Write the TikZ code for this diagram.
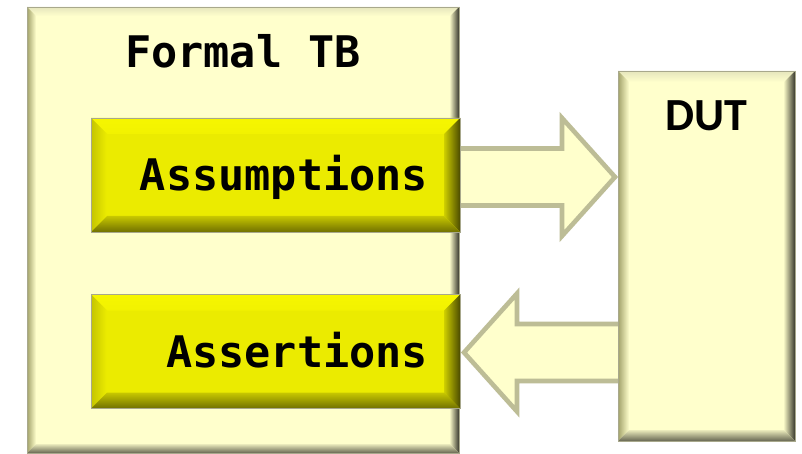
\documentclass[tikz,border=0pt]{standalone}
\usepackage{fontspec}
\setmonofont{DejaVu Sans Mono}
\newfontfamily\dutfont{Carlito}
\usetikzlibrary{calc,backgrounds}
\definecolor{paleY}{HTML}{FFFFCC}
\definecolor{boxY}{HTML}{EBEB00}
\definecolor{arrowEdge}{HTML}{BDBD96}
\definecolor{edgeGrey}{HTML}{A8A88C}
% pale bevel colours
\colorlet{paleTO}{paleY!80!gray}
\colorlet{paleTI}{paleY}
\colorlet{paleLO}{paleY!45!olive!60!gray}
\colorlet{paleLI}{paleY}
\colorlet{paleRI}{paleY!95!black}
\colorlet{paleRO}{paleY!22!black}
\colorlet{paleBI}{paleY!92!black}
\colorlet{paleBO}{paleY!40!black}
% yellow bevel colours
\definecolor{yelTO}{HTML}{F6F600}
\definecolor{yelTI}{HTML}{F2F200}
\definecolor{yelLO}{HTML}{C4C400}
\definecolor{yelLI}{HTML}{EDED00}
\definecolor{yelRI}{HTML}{CFCF00}
\definecolor{yelRO}{HTML}{4C4C00}
\definecolor{yelBI}{HTML}{C8C800}
\definecolor{yelBO}{HTML}{707000}
\newcommand{\bevelgen}[3]{% node, bevel width, colour prefix
  \shade[top color=#3TO, bottom color=#3TI]
    (#1.north west) -- (#1.north east) -- ($(#1.north east)+(-#2,#2)$) -- ($(#1.north west)+(#2,#2)$) -- cycle;
  \shade[left color=#3LO, right color=#3LI]
    (#1.north west) -- ($(#1.north west)+(#2,#2)$) -- ($(#1.south west)+(#2,-#2)$) -- (#1.south west) -- cycle;
  \shade[left color=#3RI, right color=#3RO]
    (#1.north east) -- ($(#1.north east)+(-#2,#2)$) -- ($(#1.south east)+(-#2,-#2)$) -- (#1.south east) -- cycle;
  \shade[top color=#3BI, bottom color=#3BO]
    (#1.south west) -- ($(#1.south west)+(#2,-#2)$) -- ($(#1.south east)+(-#2,-#2)$) -- (#1.south east) -- cycle;
  \draw[edgeGrey, line width=0.8pt] (#1.north west) rectangle (#1.south east);
}
\newcommand{\hs}{28.5}
\newcommand{\hh}{59}
\newcommand{\hl}{53}
\newcommand{\blockarrow}[3]{% start, tip, direction (+1 right / -1 left)
  \path[blockarrowstyle]
    ($(#1)+(0,-\hs)$) -- ($(#2)+({-#3*\hl},-\hs)$) -- ($(#2)+({-#3*\hl},-\hh)$) -- (#2)
    -- ($(#2)+({-#3*\hl},\hh)$) -- ($(#2)+({-#3*\hl},\hs)$) -- ($(#1)+(0,\hs)$) -- cycle;
}
\tikzset{
  palebox/.style={fill=paleY, draw=none, outer sep=0pt, inner sep=0pt},
  yelbox/.style={fill=boxY, draw=none, outer sep=0pt, inner xsep=32pt, inner ysep=0pt,
    minimum width=369pt, minimum height=114pt, text width=305pt, align=right,
    font=\ttfamily\bfseries\fontsize{43.5}{50}\selectfont, text height=32pt, text depth=-2pt},
  monolabel/.style={font=\ttfamily\bfseries\fontsize{43.5}{50}\selectfont, inner sep=0pt, anchor=base},
  dutlabel/.style={font=\dutfont\bfseries\fontsize{46}{52}\selectfont, inner sep=0pt, anchor=base},
  blockarrowstyle/.style={fill=paleY, draw=arrowEdge, line width=4.6pt, line join=miter},
}
\begin{document}
\begin{tikzpicture}[x=1pt, y=-1pt]
\useasboundingbox (0,0) rectangle (802,454);
% Formal TB
\node[palebox, minimum width=432pt, minimum height=446pt] (tb) at (243,230) {};
\bevelgen{tb}{9}{pale}
\node[monolabel] (tbl) at ($(tb.north)+(0,61)$) {Formal TB};
% DUT
\node[palebox, minimum width=177pt, minimum height=370pt] (dut) at (706.5,256) {};
\bevelgen{dut}{11}{pale}
\node[dutlabel] (dutl) at ($(dut.north)+(0,60)$) {DUT};
% Assumptions / Assertions
\node[yelbox] (assum) at (275.5,175) {Assumptions};
\bevelgen{assum}{16}{yel}
\node[yelbox] (asser) at (275.5,351.5) {Assertions};
\bevelgen{asser}{16}{yel}
% block arrows
\coordinate (a1s) at ($(assum.east)+(-20,2)$);
\coordinate (a1t) at ($(dut.west |- assum.east)+(-3,2)$);
\coordinate (a2s) at ($(dut.west |- asser.east)+(20,1)$);
\coordinate (a2t) at ($(asser.east)+(4,1)$);
\begin{pgfonlayer}{background}
\fill[white] (0,0) rectangle (802,454);
\blockarrow{a1s}{a1t}{1}
\blockarrow{a2s}{a2t}{-1}
\end{pgfonlayer}
\end{tikzpicture}
\end{document}
